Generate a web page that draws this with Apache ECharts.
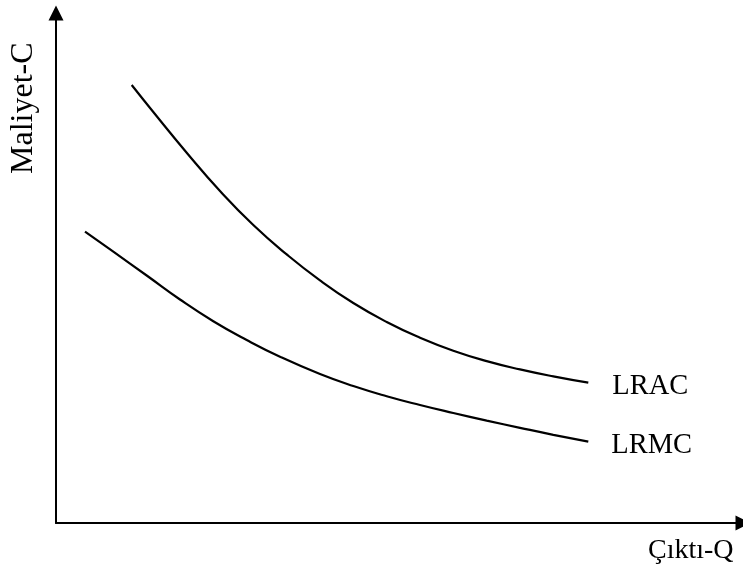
<!DOCTYPE html>
<html>
<head>
<meta charset="utf-8">
<script src="https://cdn.jsdelivr.net/npm/echarts@6/dist/echarts.min.js"></script>
<style>html,body{margin:0;padding:0;background:#fff;}#c{width:743px;height:579px;}</style>
</head>
<body>
<div id="c"></div>
<script>
const seriesNames = ['LRAC', 'LRMC'];
const lracData = [[75.7,438],[97.3,411],[130.7,370.3],[164,332],[197.3,298],[230.7,268.6],[264,242.6],[297.3,220],[330.7,201],[364,185.3],[397.3,172.3],[430.7,161.9],[464,153.6],[497.3,146.6],[532.3,140.3]];
const lrmcData = [[29,291.3],[57.3,271.3],[90.7,247.5],[124,223.5],[157.3,201.8],[190.7,183],[224,166.3],[264,149],[297.3,137],[330.7,126.8],[364,118],[397.3,110],[430.7,102.4],[464,95.2],[497.3,88.2],[532.3,81.3]];
const xAxisTitle = 'Çıktı-Q';
const yAxisTitle = 'Maliyet-C';

const font = '"Liberation Serif","Times New Roman",serif';
const chart = echarts.init(document.getElementById('c'), null, {renderer: 'canvas'});
const axisCommon = {
  type: 'value', min: 0,
  axisLine: {show: true, symbol: ['none', 'triangle'], symbolSize: [15, 15], lineStyle: {color: '#000', width: 2}},
  axisTick: {show: false}, axisLabel: {show: false}, splitLine: {show: false}
};
function mkSeries(name, data, off) {
  return {
    name: name, type: 'line', data: data, smooth: 0.5, symbol: 'none',
    lineStyle: {color: '#000', width: 2.2}, silent: true,
    endLabel: {show: true, formatter: name, color: '#000', fontFamily: font, fontSize: 28.5, distance: 0, offset: off}
  };
}
chart.setOption({
  animation: false,
  backgroundColor: '#fff',
  grid: {left: 56, right: 0, top: 13, bottom: 56},
  xAxis: Object.assign({}, axisCommon, {max: 687}),
  yAxis: Object.assign({}, axisCommon, {max: 510}),
  series: [mkSeries(seriesNames[0], lracData, [24, 4]), mkSeries(seriesNames[1], lrmcData, [23, 4])],
  graphic: [
    {type: 'text', left: 648, top: 537, style: {text: xAxisTitle, font: '28px ' + font, fill: '#000'}},
    {type: 'text', x: 8, y: 174, rotation: Math.PI / 2, style: {text: yAxisTitle, font: '32px ' + font, fill: '#000', textVerticalAlign: 'top'}}
  ]
});
</script>
</body>
</html>
